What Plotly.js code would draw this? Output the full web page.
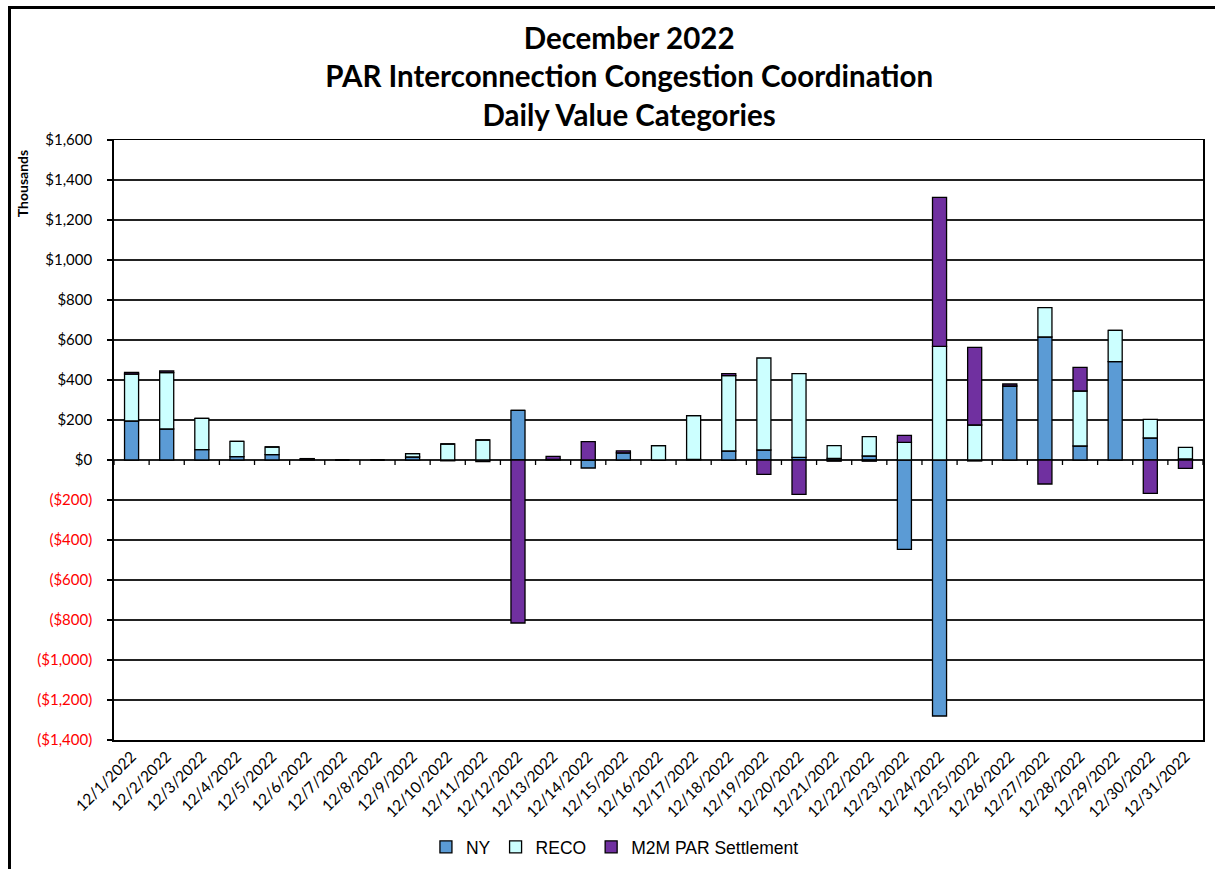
<!DOCTYPE html>
<html>
<head>
<meta charset="utf-8">
<script src="https://cdn.plot.ly/plotly-3.0.1.min.js"></script>
<style>
  html, body { margin: 0; padding: 0; background: #fff; }
  #wrap { position: relative; width: 1215px; height: 869px; overflow: hidden; }
  #frame { position: absolute; left: 8px; top: 6px; width: 1300px; height: 1000px; border-left: 3px solid #000; border-top: 3px solid #000; box-sizing: border-box; pointer-events: none; z-index: 5; }
  #chart { position: absolute; left: 0; top: 0; width: 1215px; height: 869px; }
</style>
</head>
<body>
<div id="wrap">
  <div id="chart"></div>
  <div id="frame"></div>
</div>
<script>
const days = [
  "12/1/2022","12/2/2022","12/3/2022","12/4/2022","12/5/2022","12/6/2022","12/7/2022","12/8/2022",
  "12/9/2022","12/10/2022","12/11/2022","12/12/2022","12/13/2022","12/14/2022","12/15/2022","12/16/2022",
  "12/17/2022","12/18/2022","12/19/2022","12/20/2022","12/21/2022","12/22/2022","12/23/2022","12/24/2022",
  "12/25/2022","12/26/2022","12/27/2022","12/28/2022","12/29/2022","12/30/2022","12/31/2022"
];
// Values in thousands of dollars
const NY   = [195,155,52,17,27,4,0,0,15,-4,-8,248,3,-40,36,0,3,45,50,13,8,20,-447,-1280,-5,370,615,70,492,110,5];
const RECO = [235,282,156,76,38,0,0,0,17,80,100,0,0,0,0,72,219,377,460,419,64,97,88,568,175,0,147,275,156,93,58];
const M2M  = [8,8,0,0,0,3,0,0,0,0,0,-815,15,92,10,0,0,10,-72,-172,-6,-6,35,745,388,10,-120,118,0,-167,-42];
const yTickVals = [-1400,-1200,-1000,-800,-600,-400,-200,0,200,400,600,800,1000,1200,1400,1600];

function fmt(v) {
  const s = Math.abs(v).toLocaleString('en-US');
  return v < 0 ? '<span style="color:#ff0000">($' + s + ')</span>' : '$' + s;
}
const yTickText = yTickVals.map(fmt);

const font = "Lato, 'Open Sans', sans-serif";
const barLine = {color: '#000', width: 1.3};

// category boundaries (between days) for the tick marks hanging under the zero line
const boundaries = Array.from({length: days.length + 1}, (_, i) => i - 0.5);
const tickLen = 25; // in thousands (~5 px)

const traces = [
  {type: 'bar', name: 'NY', x: days, y: NY, marker: {color: '#5B9BD5', line: barLine}},
  {type: 'bar', name: 'RECO', x: days, y: RECO, marker: {color: '#CCFFFF', line: barLine}},
  {type: 'bar', name: 'M2M PAR Settlement', x: days, y: M2M, marker: {color: '#7030A0', line: barLine}},
  {type: 'scatter', mode: 'markers', x: boundaries, y: boundaries.map(() => 0), xaxis: 'x2',
   marker: {size: 0.1, color: 'rgba(0,0,0,0)'},
   error_y: {type: 'data', symmetric: false, array: boundaries.map(() => 0),
             arrayminus: boundaries.map(() => tickLen), width: 0, thickness: 1.3, color: '#000'},
   showlegend: false, hoverinfo: 'skip'}
];

const layout = {
  width: 1215, height: 869,
  margin: {l: 114, r: 12, t: 140, b: 129},
  paper_bgcolor: '#fff', plot_bgcolor: '#fff',
  barmode: 'relative', bargap: 0.6,
  font: {family: font, color: '#000', size: 15},
  title: {
    text: '<b>December 2022<br>PAR Interconnection Congestion Coordination<br>Daily Value Categories</b>',
    font: {family: font, size: 29.5, color: '#000'},
    x: 0.473, xref: 'paper', xanchor: 'center',
    y: 0.9436, yref: 'container', yanchor: 'middle'
  },
  xaxis: {
    type: 'category', categoryorder: 'array', categoryarray: days,
    range: [-0.5, days.length - 0.5], autorange: false,
    tickangle: -45, tickfont: {family: font, size: 15.5},
    showline: true, linecolor: '#000', linewidth: 1.5, mirror: true,
    ticks: '', showgrid: false, zeroline: false
  },
  xaxis2: {
    type: 'linear', overlaying: 'x', anchor: 'y', visible: false,
    range: [-0.5, days.length - 0.5], autorange: false,
    showgrid: false, zeroline: false
  },
  yaxis: {
    range: [-1400, 1600], autorange: false, tickvals: yTickVals, ticktext: yTickText,
    tickfont: {family: font, size: 15}, ticklabelstandoff: 12,
    showgrid: true, gridcolor: '#222', gridwidth: 1.3,
    zeroline: true, zerolinecolor: '#222', zerolinewidth: 1.3,
    showline: true, linecolor: '#000', linewidth: 1.8, mirror: true,
    ticks: 'outside', ticklen: 5, tickcolor: '#000', tickwidth: 1.3
  },
  legend: {
    orientation: 'h', x: 0.46, xref: 'paper', xanchor: 'center',
    y: 1 - 847/869, yref: 'container', yanchor: 'middle',
    font: {family: "'Liberation Sans', Arial, sans-serif", size: 17.5},
    itemwidth: 30, traceorder: 'normal', tracegroupgap: 0
  },
  annotations: [{
    text: '<b>Thousands</b>', textangle: -90, showarrow: false,
    xref: 'paper', yref: 'paper', x: -0.0845, y: 0.928,
    xanchor: 'center', yanchor: 'middle',
    font: {family: font, size: 14, color: '#000'}
  }],
  showlegend: true
};

Plotly.newPlot('chart', traces, layout, {displayModeBar: false, staticPlot: true});
</script>
</body>
</html>
